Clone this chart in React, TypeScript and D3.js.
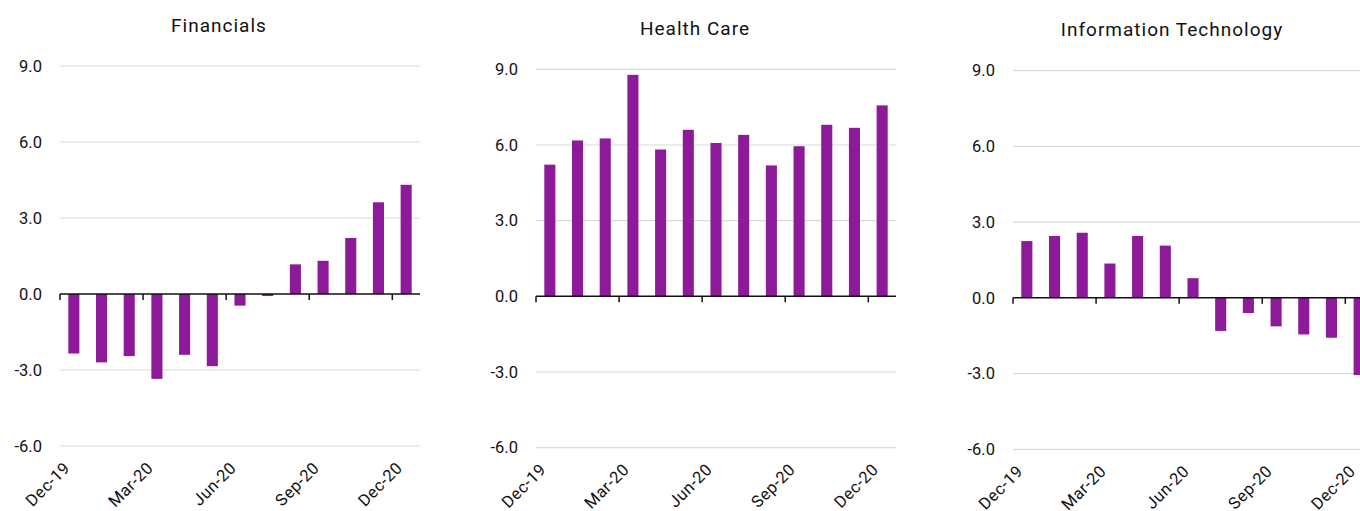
import React from 'react';
import * as d3 from 'd3';

// Monthly categories, Dec-19 .. Dec-20
const MONTHS = [
  'Dec-19', 'Jan-20', 'Feb-20', 'Mar-20', 'Apr-20', 'May-20', 'Jun-20',
  'Jul-20', 'Aug-20', 'Sep-20', 'Oct-20', 'Nov-20', 'Dec-20',
];
const TICK_LABELS = ['Dec-19', 'Mar-20', 'Jun-20', 'Sep-20', 'Dec-20'];
const Y_TICKS = [-6, -3, 0, 3, 6, 9];

const FINANCIALS = [-2.35, -2.7, -2.45, -3.35, -2.4, -2.85, -0.46, -0.08, 1.17, 1.31, 2.21, 3.62, 4.31];
const HEALTH_CARE = [5.22, 6.18, 6.26, 8.78, 5.82, 6.6, 6.08, 6.4, 5.19, 5.95, 6.8, 6.68, 7.57];
const INFO_TECH = [2.25, 2.45, 2.58, 1.36, 2.45, 2.07, 0.78, -1.31, -0.6, -1.13, -1.45, -1.58, -3.06];

const TITLES = ['Financials', 'Health Care', 'Information Technology'];
const SERIES = [FINANCIALS, HEALTH_CARE, INFO_TECH];

// plot boxes per panel (pixel layout)
const LAYOUT = [
  { left: 60, width: 360, top: 66, bottom: 446 },
  { left: 536, width: 360, top: 69.3, bottom: 447.7 },
  { left: 1013, width: 360, top: 70.7, bottom: 449.3 },
];

const BAR_COLOR = '#8C1A99';
const GRID_COLOR = '#D9D9D9';
const FONT = 'Roboto, "DejaVu Sans", sans-serif';

const fmt = (v: number) => v.toFixed(1);

const Panel: React.FC<{ title: string; values: number[]; box: typeof LAYOUT[0] }> = ({ title, values, box }) => {
  const x = d3.scaleBand<string>()
    .domain(MONTHS)
    .range([box.left, box.left + box.width])
    .paddingInner(0.6)
    .paddingOuter(0.3);
  const y = d3.scaleLinear().domain([-6, 9]).range([box.bottom, box.top]);
  const gap = (x.step() - x.bandwidth()) / 2;
  const boundary = (m: string) => (x(m) ?? 0) - gap;
  const y0 = y(0);

  return (
    <g>
      <text
        x={box.left + box.width / 2 - 21}
        y={box.top - 34.5}
        textAnchor="middle"
        fontSize={19}
        letterSpacing={1}
        fill="#111"
      >
        {title}
      </text>
      {Y_TICKS.map(t => (
        <g key={t}>
          {t !== 0 && (
            <line x1={box.left} x2={box.left + box.width} y1={y(t)} y2={y(t)} stroke={GRID_COLOR} strokeWidth={1.2} />
          )}
          <text x={box.left - 18} y={y(t)} dy="0.35em" textAnchor="end" fontSize={16.5} fill="#111">
            {fmt(t)}
          </text>
        </g>
      ))}
      {values.map((v, i) => (
        <rect
          key={MONTHS[i]}
          x={x(MONTHS[i])}
          width={x.bandwidth()}
          y={Math.min(y(v), y0)}
          height={Math.abs(y(v) - y0)}
          fill={BAR_COLOR}
        />
      ))}
      <line x1={box.left} x2={box.left + box.width} y1={y0} y2={y0} stroke="#111" strokeWidth={1.5} />
      {TICK_LABELS.map(m => (
        <g key={m}>
          <line x1={boundary(m)} x2={boundary(m)} y1={y0} y2={y0 + 6} stroke="#111" strokeWidth={1.5} />
          <text
            transform={`translate(${boundary(m) + 11},${box.bottom + 23}) rotate(-45)`}
            textAnchor="end"
            fontSize={16.5}
            letterSpacing={0.5}
            fill="#111"
          >
            {m}
          </text>
        </g>
      ))}
    </g>
  );
};

export default function App() {
  return (
    <svg
      width={1360}
      height={511}
      style={{ position: 'absolute', left: 0, top: 0, background: '#fff' }}
      fontFamily={FONT}
    >
      <rect width={1360} height={511} fill="#fff" />
      {TITLES.map((t, i) => (
        <Panel key={t} title={t} values={SERIES[i]} box={LAYOUT[i]} />
      ))}
    </svg>
  );
}
